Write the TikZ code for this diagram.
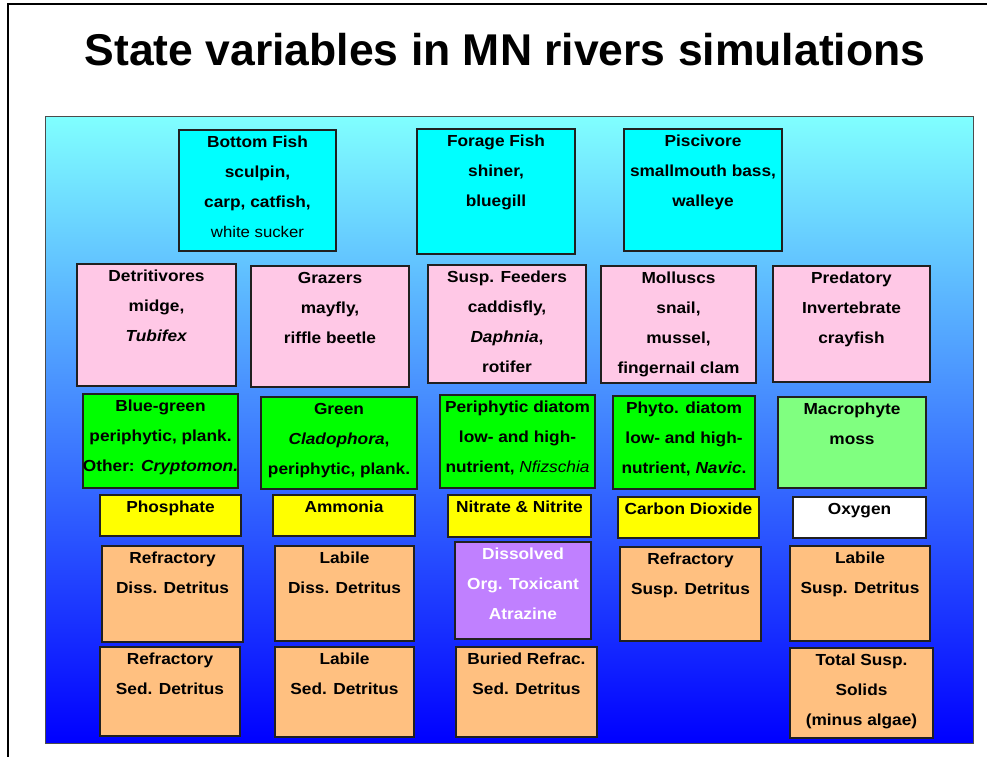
\documentclass[tikz,border=0pt]{standalone}
\usepackage{fontspec}
\setmainfont{Liberation Sans}
\newfontfamily\labelfont[FakeStretch=1.08]{Liberation Sans}
\definecolor{panelTop}{HTML}{80FFFF}
\definecolor{panelBot}{HTML}{0000FF}
\definecolor{fishC}{HTML}{00FFFF}
\definecolor{invC}{HTML}{FFC8E6}
\definecolor{algC}{HTML}{00FF00}
\definecolor{macC}{HTML}{80FF80}
\definecolor{nutC}{HTML}{FFFF00}
\definecolor{detC}{HTML}{FFC080}
\definecolor{toxC}{HTML}{C080FF}
\definecolor{edgeC}{HTML}{202020}
\tikzset{
  box/.style={draw=edgeC, line width=1.1pt, anchor=north west, inner sep=0pt, outer sep=0pt},
  txt/.style={anchor=north, align=center, inner sep=0pt, yshift=-4pt,
    font=\labelfont\fontsize{16}{30}\selectfont\bfseries},
  title/.style={anchor=base, inner sep=0pt, font=\fontsize{44.5}{50}\selectfont\bfseries},
}
% one state-variable box: [text colour], name, fill, x1, y1, x2, y2, text
\newcommand{\stvbox}[8][black]{%
  \node[box, fill=#3, minimum width={#6-#4}, minimum height={#7-#5}] (#2) at (#4,#5) {};
  \node[txt, text=#1] (#2-t) at (#2.north) {\rule{0pt}{13pt}#8};
}
\begin{document}
\begin{tikzpicture}[x=1pt, y=-1pt]
  \useasboundingbox (0,0) rectangle (990,757);
  % slide frame
  \coordinate (fb) at (8,757);
  \coordinate (fc) at (8,4);
  \coordinate (fr) at (987,4);
  \draw[line width=1.2pt] (fb) -- (fc) -- (fr);
  % title
  \node[title] (title) at (505,66) {State variables in MN rivers simulations};
  % gradient panel
  \shade[top color=panelTop, bottom color=panelBot] (45,117) rectangle (973,743);
  \draw[draw=gray!60!black, line width=1pt] (45,117) rectangle (973,743);
  % fish
  \stvbox{bf}{fishC}{179}{130}{336}{251}{Bottom Fish\\sculpin,\\carp, catfish,\\{\mdseries\fontsize{15.5}{30}\selectfont white sucker}}
  \stvbox{ff}{fishC}{417}{129}{575}{254}{Forage Fish\\shiner,\\bluegill}
  \stvbox{pv}{fishC}{624}{129}{782}{251}{Piscivore\\smallmouth bass,\\walleye}
  % invertebrates
  \stvbox{dt}{invC}{77}{264}{236}{386}{Detritivores\\midge,\\\textit{Tubifex}}
  \stvbox{gz}{invC}{251}{266}{409}{387}{Grazers\\mayfly,\\riffle beetle}
  \stvbox{sf}{invC}{428}{265}{586}{383}{Susp. Feeders\\caddisfly,\\\textit{Daphnia},\\rotifer}
  \stvbox{ml}{invC}{601}{266}{756}{383}{Molluscs\\snail,\\mussel,\\fingernail clam}
  \stvbox{pi}{invC}{773}{266}{930}{382}{Predatory\\Invertebrate\\crayfish}
  % plants
  \stvbox{bg}{algC}{83}{394}{238}{488}{Blue-green\\periphytic, plank.\\Other: \textit{Cryptomon.}}
  \stvbox{gr}{algC}{261}{397}{417}{489}{Green\\\textit{Cladophora},\\periphytic, plank.}
  \stvbox{pd}{algC}{440}{395}{595}{488}{Periphytic diatom\\low- and high-\\nutrient, {\mdseries\itshape Nfizschia}}
  \stvbox{ph}{algC}{613}{396}{755}{489}{Phyto. diatom\\low- and high-\\nutrient, \textit{Navic}.}
  \stvbox{mp}{macC}{778}{397}{926}{488}{Macrophyte\\moss}
  % nutrients and gases
  \stvbox{po}{nutC}{100}{495}{241}{536}{Phosphate}
  \stvbox{am}{nutC}{273}{495}{415}{536}{Ammonia}
  \stvbox{ni}{nutC}{448}{495}{591}{537}{Nitrate \& Nitrite}
  \stvbox{co}{nutC}{618}{497}{759}{538}{Carbon Dioxide}
  \stvbox{ox}{white}{793}{497}{926}{538}{Oxygen}
  % detritus and toxicant
  \stvbox{rd}{detC}{102}{546}{243}{642}{Refractory\\Diss. Detritus}
  \stvbox{ld}{detC}{275}{546}{414}{641}{Labile\\Diss. Detritus}
  \stvbox[white]{dx}{toxC}{455}{542}{591}{639}{Dissolved\\Org. Toxicant\\Atrazine}
  \stvbox{rs}{detC}{620}{547}{761}{641}{Refractory\\Susp. Detritus}
  \stvbox{ls}{detC}{790}{546}{930}{641}{Labile\\Susp. Detritus}
  \stvbox{rsd}{detC}{100}{647}{240}{736}{Refractory\\Sed. Detritus}
  \stvbox{lsd}{detC}{275}{647}{414}{737}{Labile\\Sed. Detritus}
  \stvbox{bsd}{detC}{456}{647}{597}{737}{Buried Refrac.\\Sed. Detritus}
  \stvbox{ts}{detC}{790}{648}{933}{738}{Total Susp.\\Solids\\(minus algae)}
\end{tikzpicture}
\end{document}
